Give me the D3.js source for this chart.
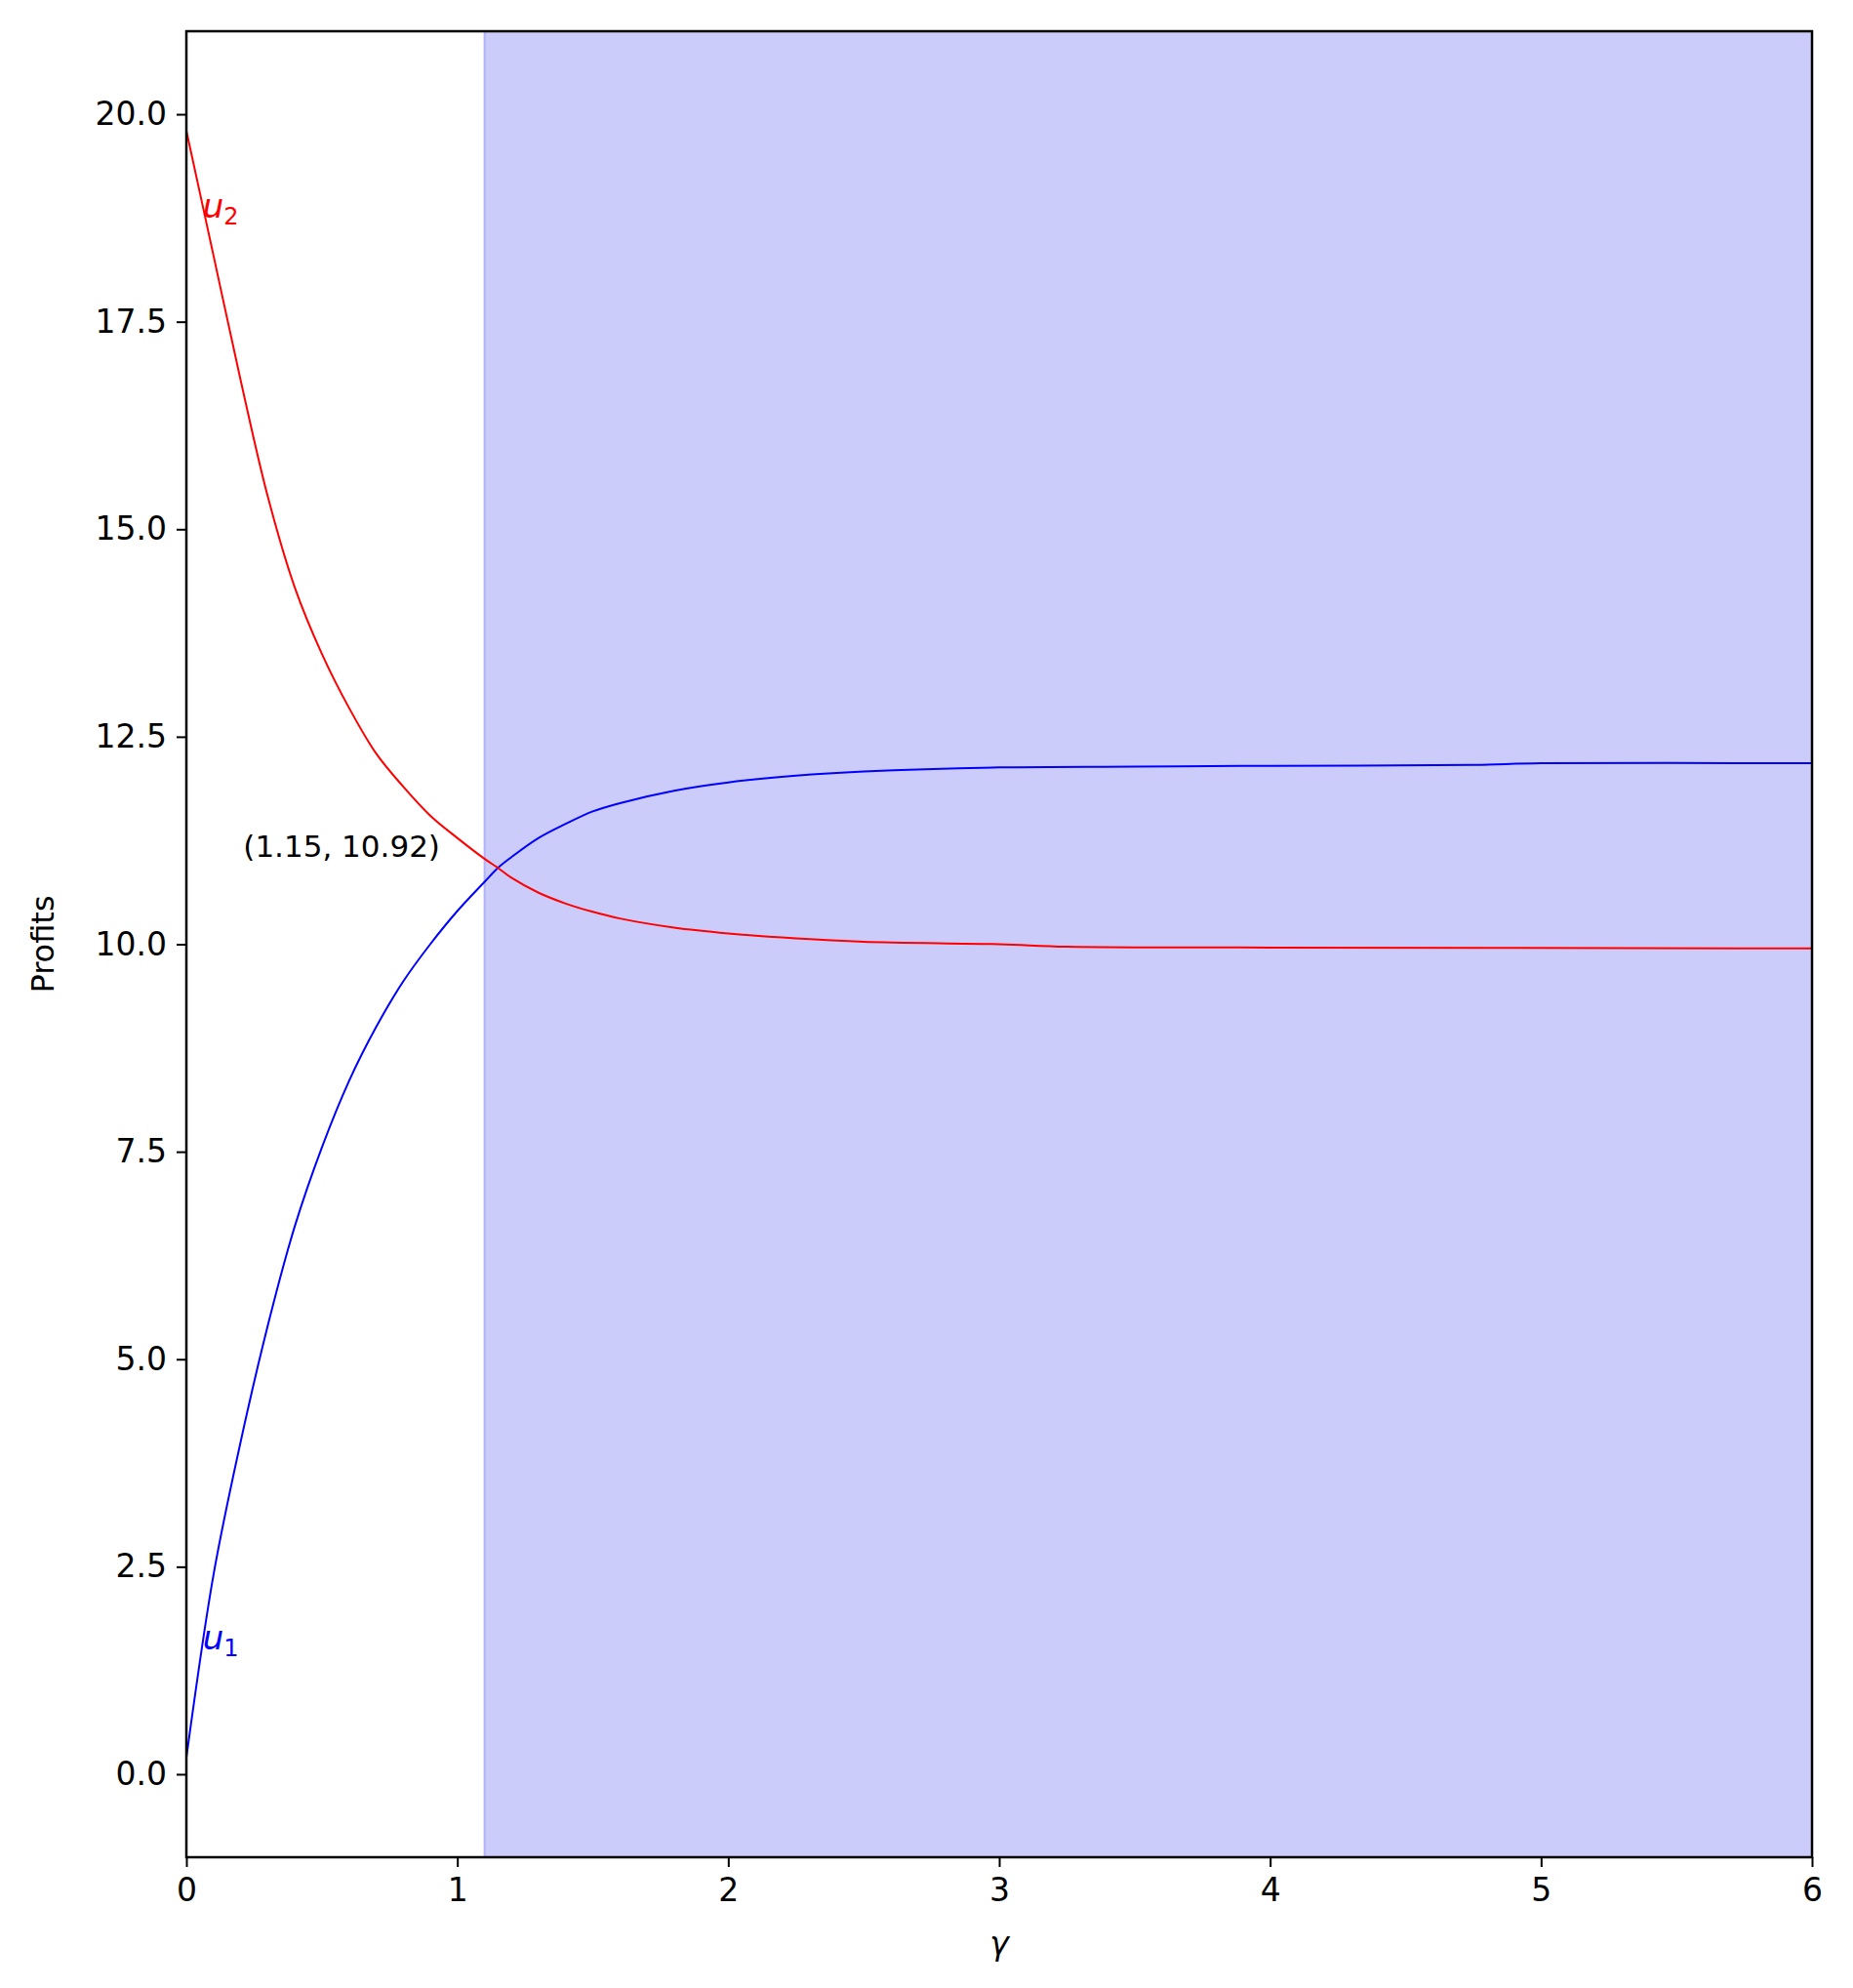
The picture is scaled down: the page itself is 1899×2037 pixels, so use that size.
<!DOCTYPE html>
<html><head><meta charset="utf-8">
<script src="https://cdn.jsdelivr.net/npm/d3@7"></script>
<style>body{margin:0;background:#fff}svg{display:block}text{font-family:"DejaVu Sans",sans-serif}</style>
</head><body>
<script>
const gammaU1 = [0,0.1,0.2,0.3,0.4,0.5,0.6,0.7,0.8,0.9,1.0,1.1,1.15,1.2,1.3,1.4,1.5,1.6,1.8,2.0,2.25,2.5,3,3.5,4,4.75,5,6];
const u1 = [0.2,2.4,4.0,5.4,6.6,7.55,8.35,9.0,9.55,10.0,10.4,10.75,10.92,11.05,11.28,11.45,11.6,11.7,11.85,11.95,12.03,12.08,12.13,12.14,12.15,12.16,12.18,12.18];
const gammaU2 = [0,0.1,0.2,0.3,0.4,0.5,0.6,0.7,0.8,0.9,1.0,1.1,1.15,1.2,1.3,1.4,1.5,1.6,1.8,2.0,2.25,2.5,3,3.25,4,6];
const u2 = [19.8,18.3,16.8,15.4,14.3,13.5,12.85,12.3,11.9,11.55,11.28,11.03,10.92,10.8,10.62,10.49,10.39,10.31,10.2,10.13,10.07,10.03,10.0,9.97,9.96,9.95];
const xTicks = [0,1,2,3,4,5,6];
const yTicks = [0,2.5,5,7.5,10,12.5,15,17.5,20];
const shadeStart = 1.1;
const crossing = [1.15, 10.92];

const W=1899,H=2037, L=191,R=1857,T=32,B=1903;
const svg=d3.select("body").append("svg").attr("width",W).attr("height",H);
const x=d3.scaleLinear().domain([0,6]).range([L,R]);
const y=d3.scaleLinear().domain([-1,21]).range([B,T]);

svg.append("rect").attr("x",x(shadeStart)).attr("y",T).attr("width",x(6)-x(shadeStart)).attr("height",B-T).attr("fill","rgb(204,204,250)");
svg.append("line").attr("x1",x(shadeStart)).attr("x2",x(shadeStart)).attr("y1",T).attr("y2",B).attr("stroke","rgba(0,0,255,0.2)").attr("stroke-width",2);

const line=d3.line().x(d=>x(d[0])).y(d=>y(d[1])).curve(d3.curveCatmullRom.alpha(0.5));
svg.append("path").attr("d",line(gammaU1.map((g,i)=>[g,u1[i]]))).attr("fill","none").attr("stroke","blue").attr("stroke-width",2);
svg.append("path").attr("d",line(gammaU2.map((g,i)=>[g,u2[i]]))).attr("fill","none").attr("stroke","red").attr("stroke-width",2);

svg.append("text").attr("x",x(0.06)).attr("y",y(18.75)).attr("fill","red").attr("font-size",34).attr("font-style","italic").text("u").append("tspan").attr("font-style","normal").attr("font-size",24).attr("dy",7).text("2");
svg.append("text").attr("x",x(0.06)).attr("y",y(1.5)).attr("fill","blue").attr("font-size",34).attr("font-style","italic").text("u").append("tspan").attr("font-style","normal").attr("font-size",24).attr("dy",7).text("1");
svg.append("text").attr("x",x(0.21)).attr("y",y(11.18)).attr("dy","0.35em").attr("font-size",31).text(`(${crossing[0].toFixed(2)}, ${crossing[1].toFixed(2)})`);

const gx=svg.append("g").attr("transform",`translate(0,${B})`).call(d3.axisBottom(x).tickValues(xTicks).tickFormat(d3.format("d")).tickSize(10).tickPadding(12));
const gy=svg.append("g").attr("transform",`translate(${L},0)`).call(d3.axisLeft(y).tickValues(yTicks).tickFormat(d3.format(".1f")).tickSize(10).tickPadding(10));
[gx,gy].forEach(g=>{g.selectAll("text").attr("font-size",33).attr("fill","#000").attr("font-family","DejaVu Sans");g.selectAll("line").attr("stroke-width",2);g.select(".domain").remove();});
svg.append("rect").attr("x",L).attr("y",T).attr("width",R-L).attr("height",B-T).attr("fill","none").attr("stroke","#000").attr("stroke-width",2.5);

svg.append("text").attr("x",(L+R)/2).attr("y",2003).attr("text-anchor","middle").attr("font-size",33).attr("font-style","italic").text("γ");
svg.append("text").attr("transform",`translate(55,${(T+B)/2}) rotate(-90)`).attr("text-anchor","middle").attr("font-size",32).text("Profits");
</script>
</body></html>
